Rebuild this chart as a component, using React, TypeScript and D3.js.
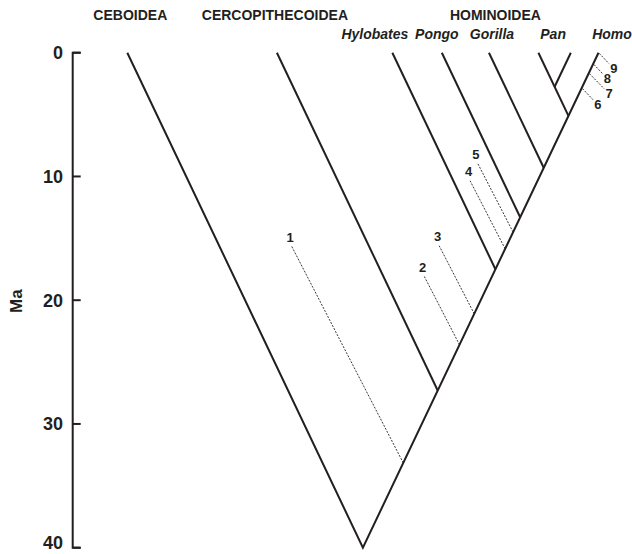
import React from "react";
import * as d3 from "d3";

// ---- data (ages in Ma) ----
const superfamilies = ["CEBOIDEA", "CERCOPITHECOIDEA", "HOMINOIDEA"];
const genera = ["Hylobates", "Pongo", "Gorilla", "Pan", "Homo"];
// lineages joining the Homo stem, oldest first
const lineages = ["Ceboidea", "Cercopithecoidea", "Hylobates", "Pongo", "Gorilla", "Pan"];
const divergenceAges = [40, 27.3, 17.5, 13.3, 9.3, 5.1];
const panSplitAge = 2.75;
const ageTicks = [0, 10, 20, 30, 40];
// fossil calibration markers: age where the dotted line meets the Homo stem and age of its free end
const fossilIds = ["1", "2", "3", "4", "5", "6", "7", "8", "9"];
const fossilStemAges = [33.15, 23.6, 21.1, 15.85, 14.5, 2.9, 1.7, 0.95, 0.05];
const fossilEndAges = [15.65, 18.05, 15.6, 10.35, 8.9, 3.8, 2.92, 1.7, 0.88];

const W = 632;
const H = 554;
const INK = "#231f20";
const FONT = "'Liberation Sans', Arial, Helvetica, sans-serif";

export default function App() {
  const y = d3.scaleLinear().domain([0, 40]).range([52.7, 547.7]);
  // horizontal offset from the Homo stem, in Ma units (branches drawn at constant slope)
  const x = d3.scaleLinear().domain([0, 80]).range([598.5, 598.5 - 80 * 5.89]);
  const line = d3.line<[number, number]>().x((d) => x(d[0])).y((d) => y(d[1]));

  const branches: [number, number][][] = [];
  lineages.forEach((_, i) => {
    if (i === 0) return;
    const a = divergenceAges[i];
    branches.push([[2 * a, 0], [a, a]]);
  });
  const panA = divergenceAges[5];
  const panNodeOff = 2 * panA - panSplitAge;
  branches.push([[panNodeOff - panSplitAge, 0], [panNodeOff, panSplitAge]]);

  const axisX = 72.7;
  const tipX = (i: number) => x(2 * divergenceAges[i]);

  const supPos = [tipX(0) + 3, tipX(1) - 2, (tipX(2) + x(0)) / 2];
  const genPos = [
    tipX(2) - 17.5,
    tipX(3) - 5,
    tipX(4) + 3,
    (tipX(5) + x(panNodeOff - panSplitAge)) / 2 - 1.5,
    x(0) + 13.5,
  ];

  const fossils = fossilIds.map((id, i) => {
    const t = fossilStemAges[i];
    const e = fossilEndAges[i];
    const up = e < t;
    const endOff = up ? t + 1.082 * (t - e) : t - 2.2 * (e - t);
    const sx = x(t) + (up ? 0 : 1), sy = y(t), ex = x(endOff), ey = y(e);
    return {
      id,
      sx, sy, ex, ey,
      lx: up ? ex - 1.5 : ex + 4.8,
      ly: up ? ey - 4.3 : ey + 9,
    };
  });

  return (
    <svg
      width={W}
      height={H}
      style={{ position: "absolute", left: 0, top: 0, background: "#fff" }}
      fontFamily={FONT}
    >
      <rect width={W} height={H} fill="#fff" />
      {/* header labels */}
      {superfamilies.map((s, i) => (
        <text key={s} x={supPos[i]} y={19.5} textAnchor="middle" fontSize={14} fontWeight="bold" fill={INK}>
          {s}
        </text>
      ))}
      {genera.map((g, i) => (
        <text key={g} x={genPos[i]} y={38.5} textAnchor="middle" fontSize={14} fontWeight="bold" fontStyle="italic" fill={INK}>
          {g}
        </text>
      ))}

      {/* age axis */}
      <path
        d={`M${axisX + 8},${y(0)}H${axisX}V${y(40)}H${axisX + 8}`}
        fill="none"
        stroke={INK}
        strokeWidth={2}
      />
      {ageTicks.map((t) => (
        <g key={t}>
          <line x1={axisX} x2={axisX + 8} y1={y(t)} y2={y(t)} stroke={INK} strokeWidth={2} />
          <text x={63} y={t === 40 ? y(t) - 5 : y(t)} dy="0.35em" textAnchor="end" fontSize={18} fontWeight="bold" fill={INK}>
            {t}
          </text>
        </g>
      ))}
      <text
        transform={`translate(16,${(y(0) + y(40)) / 2 + 1}) rotate(-90)`}
        dy="0.35em"
        textAnchor="middle"
        fontSize={17}
        fontWeight="bold"
        fill={INK}
      >
        Ma
      </text>

      {/* tree */}
      {branches.map((b, i) => (
        <path key={i} d={line(b) || ""} fill="none" stroke={INK} strokeWidth={2} strokeLinejoin="miter" />
      ))}
      <path
        d={line([[2 * divergenceAges[0], 0], [divergenceAges[0], divergenceAges[0]], [0, 0]]) || ""}
        fill="none"
        stroke={INK}
        strokeWidth={2}
        strokeLinejoin="miter"
        strokeMiterlimit={10}
      />

      {/* fossil markers */}
      {fossils.map((f) => (
        <g key={f.id}>
          <line x1={f.sx} y1={f.sy} x2={f.ex} y2={f.ey} stroke={INK} strokeWidth={0.9} strokeDasharray="2 1.4" />
          <text x={f.lx} y={f.ly} textAnchor="middle" fontSize={13} fontWeight="bold" fill={INK}>
            {f.id}
          </text>
        </g>
      ))}
    </svg>
  );
}
